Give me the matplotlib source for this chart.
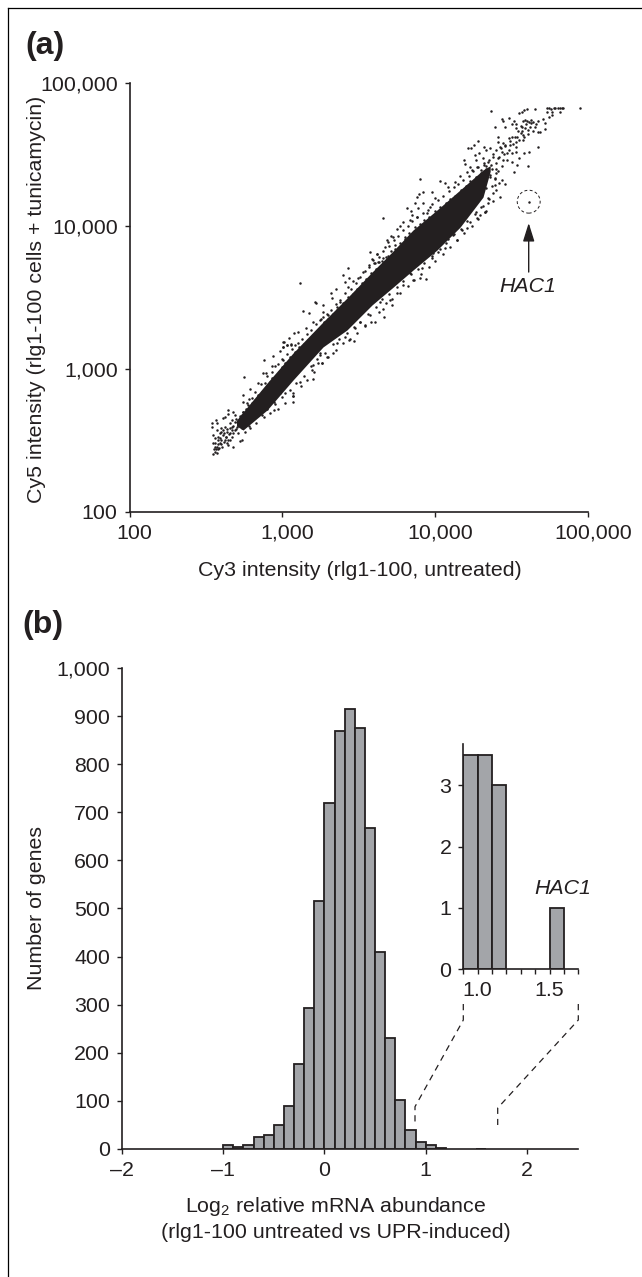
import numpy as np
import matplotlib
matplotlib.use('Agg')
import matplotlib.pyplot as plt
from matplotlib.lines import Line2D
from matplotlib.ticker import FuncFormatter
from matplotlib.transforms import ScaledTranslation

W, H = 642, 1277
INK = '#231f20'
BAR = '#a3a5a9'
TXT = 15.4

plt.rcParams['font.family'] = ['Liberation Sans', 'DejaVu Sans']
plt.rcParams['mathtext.fontset'] = 'custom'
plt.rcParams['mathtext.rm'] = 'Liberation Sans'
plt.rcParams['text.color'] = INK

# log10 (Cy3, Cy5), spot by spot
spots_low = [
    (2.537, 2.622), (2.566, 2.641), (2.570, 2.622), (2.537, 2.590), (2.544, 2.536), (2.570, 2.571),
    (2.596, 2.583), (2.625, 2.659), (2.609, 2.655), (2.646, 2.711), (2.646, 2.683), (2.679, 2.699),
    (2.668, 2.641), (2.690, 2.676), (2.592, 2.548), (2.614, 2.536), (2.559, 2.513), (2.581, 2.501),
    (2.548, 2.478), (2.570, 2.454), (2.587, 2.443), (2.559, 2.419), (2.544, 2.403), (2.631, 2.524),
    (2.657, 2.501), (2.668, 2.524), (2.646, 2.466), (2.679, 2.450), (2.723, 2.496), (2.734, 2.501),
    (2.712, 2.548), (2.690, 2.571), (2.657, 2.583), (2.734, 2.583), (2.755, 2.559), (2.788, 2.583),
    (2.810, 2.676), (2.864, 2.676), (2.777, 2.641), (2.744, 2.699), (2.744, 2.816), (2.766, 2.757),
    (2.740, 2.769), (2.788, 2.855), (2.843, 2.897), (2.751, 2.939), (2.880, 3.060), (2.941, 3.088),
    (2.875, 2.972), (2.893, 2.972), (2.930, 3.018), (2.952, 3.018), (2.984, 3.125), (3.006, 3.153),
    (3.032, 3.167), (3.002, 3.188), (3.054, 3.167), (2.995, 3.014), (3.032, 3.042), (3.061, 3.060),
    (3.082, 3.095), (2.945, 2.711), (2.945, 2.769), (3.067, 2.827), (3.071, 2.809), (3.067, 2.769),
    (3.202, 2.925), (3.115, 2.909), (3.191, 2.990), (3.235, 3.037), (3.246, 3.107), (2.984, 2.827),
    (3.017, 2.827), (2.810, 2.734), (2.712, 2.618), (2.625, 2.594), (2.592, 2.478), (2.618, 2.489),
    (2.646, 2.501), (2.701, 2.629), (2.592, 2.513), (2.614, 2.571), (2.635, 2.559), (2.668, 2.594),
    (2.701, 2.594), (2.679, 2.548), (2.657, 2.548), (2.625, 2.501), (2.603, 2.454), (2.581, 2.473),
    (2.566, 2.436), (2.635, 2.478), (2.690, 2.629), (2.723, 2.652), (2.744, 2.641), (2.734, 2.676),
    (2.766, 2.676), (2.788, 2.711), (2.821, 2.781), (2.832, 2.722), (2.853, 2.734), (2.875, 2.827),
    (2.908, 2.816), (2.930, 2.851), (2.886, 2.897), (2.930, 2.932), (2.973, 2.944), (2.995, 2.885),
    (2.777, 2.746), (2.799, 2.792), (2.843, 2.816),
]
spots_mid = [
    (3.116, 3.597), (3.432, 3.702), (3.395, 3.655), (3.438, 3.632), (3.410, 3.609), (3.465, 3.616),
    (3.432, 3.574), (3.351, 3.555), (3.316, 3.527), (3.214, 3.469), (3.220, 3.462), (3.264, 3.446),
    (3.323, 3.492), (3.138, 3.406), (3.177, 3.392), (3.264, 3.399), (3.203, 3.329), (3.155, 3.282),
    (3.105, 3.259), (3.077, 3.252), (3.046, 3.213), (3.011, 3.189), (3.002, 3.150), (3.029, 3.166),
    (3.057, 3.173), (3.083, 3.166), (3.007, 3.061), (3.040, 3.038), (3.290, 3.084), (3.334, 3.108),
    (3.258, 3.038), (3.356, 3.178), (3.438, 3.201), (3.469, 3.194), (3.410, 3.224), (3.541, 3.306),
    (3.606, 3.329), (3.665, 3.364), (3.661, 3.415), (3.715, 3.446), (3.748, 3.527), (3.704, 3.481),
    (3.574, 3.818), (3.617, 3.802), (3.595, 3.760), (3.569, 3.725), (3.530, 3.679), (3.497, 3.632),
    (3.628, 3.748), (3.694, 3.788), (3.737, 3.807), (3.247, 3.341), (3.268, 3.364), (3.301, 3.376),
    (3.356, 3.434), (3.377, 3.469), (3.476, 3.282), (3.508, 3.329), (3.574, 3.376), (3.639, 3.469),
    (3.203, 3.026), (3.247, 3.096),
]
spots_high = [
    (3.901, 4.327), (3.657, 4.052), (3.879, 4.204), (3.897, 4.222), (3.923, 4.236), (3.977, 4.239),
    (3.868, 4.157), (3.923, 4.157), (3.814, 4.122), (3.840, 4.106), (3.847, 4.075), (3.890, 4.122),
    (3.966, 4.134), (3.999, 4.192), (4.032, 4.315), (4.065, 4.301), (4.086, 4.274), (4.130, 4.308),
    (4.163, 4.348), (4.206, 4.378), (3.792, 4.029), (3.770, 3.999), (3.748, 3.975), (3.709, 3.929),
    (3.727, 3.924), (3.683, 3.901), (3.694, 3.889), (3.672, 3.854), (3.618, 3.803), (3.585, 3.766),
    (3.661, 3.773), (3.635, 3.749), (3.607, 3.738), (3.901, 3.633), (3.940, 3.626), (3.912, 3.703),
    (3.977, 3.773), (3.988, 3.808), (4.065, 3.842), (4.086, 3.905), (4.141, 3.901), (4.174, 3.971),
    (4.228, 4.029), (4.272, 4.052), (4.326, 4.099), (4.348, 4.157), (3.857, 3.621), (3.792, 3.586),
    (3.836, 3.668), (3.836, 4.041), (3.879, 4.064), (3.945, 4.087), (3.738, 3.866), (3.803, 3.924),
    (4.021, 3.819), (4.119, 3.936), (4.206, 3.982), (4.293, 4.075),
]
spots_top = [
    (4.731, 4.821), (4.742, 4.821), (4.758, 4.816), (4.776, 4.821), (4.787, 4.821), (4.803, 4.821),
    (4.817, 4.821), (4.828, 4.821), (4.839, 4.821), (4.946, 4.821), (4.653, 4.814), (4.599, 4.816),
    (4.583, 4.809), (4.549, 4.786), (4.567, 4.798), (4.367, 4.804), (4.735, 4.793), (4.765, 4.793),
    (4.817, 4.798), (4.435, 4.746), (4.447, 4.732), (4.481, 4.756), (4.515, 4.732), (4.458, 4.693),
    (4.390, 4.693), (4.504, 4.709), (4.526, 4.709), (4.526, 4.681), (4.572, 4.732), (4.590, 4.739),
    (4.567, 4.693), (4.617, 4.728), (4.640, 4.723), (4.674, 4.732), (4.708, 4.746), (4.742, 4.763),
    (4.765, 4.774), (4.719, 4.716), (4.719, 4.674), (4.674, 4.653), (4.685, 4.658), (4.628, 4.716),
    (4.606, 4.669), (4.572, 4.634), (4.651, 4.693), (4.594, 4.709), (4.481, 4.611), (4.504, 4.623),
    (4.538, 4.623), (4.413, 4.623), (4.408, 4.588), (4.447, 4.576), (4.277, 4.592), (4.254, 4.565),
    (4.236, 4.541), (4.213, 4.546), (4.322, 4.553), (4.333, 4.530), (4.356, 4.541), (4.395, 4.530),
    (4.424, 4.553), (4.458, 4.565), (4.492, 4.565), (4.526, 4.588), (4.560, 4.646), (4.572, 4.599),
    (4.674, 4.553), (4.583, 4.506), (4.606, 4.420), (4.617, 4.518), (4.549, 4.471), (4.526, 4.518),
    (4.504, 4.448), (4.538, 4.425), (4.515, 4.378), (4.447, 4.460), (4.288, 4.506), (4.311, 4.471),
    (4.258, 4.495), (4.265, 4.460), (4.186, 4.460), (4.197, 4.429), (4.231, 4.413), (4.272, 4.413),
    (4.242, 4.390), (4.435, 4.320), (4.454, 4.290), (4.424, 4.203), (4.345, 4.192), (4.379, 4.227),
    (4.390, 4.285), (4.299, 4.133), (4.326, 4.099), (4.265, 4.099), (4.208, 4.099), (4.401, 4.366),
    (4.367, 4.425), (4.413, 4.471), (4.379, 4.483), (4.469, 4.506), (4.435, 4.518), (4.345, 4.448),
    (4.322, 4.425), (4.299, 4.390), (4.356, 4.355), (4.390, 4.332), (4.299, 4.285), (4.254, 4.215),
    (4.333, 4.262), (4.288, 4.215), (4.220, 4.285),
]

# too close together to separate: typed by eye to match the density along the band
fringe_upper = [
    (2.78, 2.79), (2.80, 2.76), (2.82, 2.84), (2.84, 2.80), (2.86, 2.89), (2.87, 2.84), (2.90, 2.95),
    (2.92, 2.91), (2.93, 2.98), (2.95, 2.94), (2.97, 3.03), (2.98, 2.98), (3.00, 3.07), (3.02, 3.04),
    (3.03, 3.10), (3.05, 3.08), (3.06, 3.14), (3.08, 3.12), (3.10, 3.18), (3.11, 3.15), (3.13, 3.21),
    (3.14, 3.17), (3.16, 3.24), (3.17, 3.20), (3.19, 3.27), (3.20, 3.23), (3.22, 3.31), (3.24, 3.28),
    (3.25, 3.35), (3.27, 3.33), (3.29, 3.38), (3.30, 3.35), (3.32, 3.41), (3.33, 3.38), (3.35, 3.45),
    (3.36, 3.41), (3.38, 3.48), (3.40, 3.46), (3.41, 3.53), (3.43, 3.50), (3.45, 3.56), (3.46, 3.52),
    (3.48, 3.60), (3.49, 3.56), (3.51, 3.64), (3.52, 3.60), (3.54, 3.68), (3.55, 3.63), (3.57, 3.71),
    (3.58, 3.67), (3.60, 3.74), (3.61, 3.70), (3.63, 3.78), (3.65, 3.75), (3.66, 3.82), (3.68, 3.78),
    (3.70, 3.86), (3.71, 3.82), (3.73, 3.90), (3.74, 3.84), (3.76, 3.93), (3.77, 3.88), (3.79, 3.97),
    (3.80, 3.91), (3.82, 4.00), (3.83, 3.95), (3.85, 4.03), (3.87, 3.99), (3.88, 4.06), (3.90, 4.01),
    (3.92, 4.09), (3.93, 4.04), (3.95, 4.11), (3.96, 4.06), (3.98, 4.15), (4.00, 4.10), (4.02, 4.18),
    (4.03, 4.13), (4.05, 4.21), (4.07, 4.16), (4.09, 4.24), (4.10, 4.19), (4.12, 4.27), (4.13, 4.21),
    (4.15, 4.29), (4.17, 4.25), (4.18, 4.32), (4.20, 4.28), (4.22, 4.35), (4.23, 4.31), (4.25, 4.38),
    (4.27, 4.34), (4.28, 4.41), (4.30, 4.37), (4.32, 4.44), (4.33, 4.40),
]
fringe_lower = [
    (2.78, 2.60), (2.81, 2.65), (2.83, 2.62), (2.85, 2.68), (2.88, 2.66), (2.90, 2.72), (2.92, 2.69),
    (2.95, 2.75), (2.97, 2.72), (3.00, 2.80), (3.02, 2.76), (3.05, 2.85), (3.07, 2.81), (3.09, 2.90),
    (3.12, 2.88), (3.14, 2.95), (3.16, 2.92), (3.19, 3.02), (3.21, 2.98), (3.23, 3.07), (3.26, 3.04),
    (3.28, 3.11), (3.30, 3.08), (3.33, 3.17), (3.35, 3.13), (3.37, 3.21), (3.40, 3.18), (3.42, 3.25),
    (3.44, 3.21), (3.47, 3.29), (3.49, 3.25), (3.51, 3.33), (3.54, 3.30), (3.56, 3.38), (3.58, 3.33),
    (3.61, 3.43), (3.63, 3.40), (3.65, 3.49), (3.68, 3.46), (3.70, 3.52), (3.72, 3.49), (3.75, 3.57),
    (3.77, 3.53), (3.79, 3.61), (3.82, 3.58), (3.84, 3.66), (3.86, 3.62), (3.89, 3.70), (3.91, 3.66),
    (3.93, 3.74), (3.96, 3.71), (3.98, 3.79), (4.00, 3.75), (4.03, 3.84), (4.05, 3.80), (4.07, 3.88),
    (4.10, 3.85), (4.12, 3.94), (4.14, 3.90), (4.17, 3.98), (4.19, 3.95), (4.21, 4.03), (4.24, 4.00),
    (4.26, 4.08), (4.28, 4.05), (4.31, 4.14), (4.33, 4.10), (4.35, 4.19), (4.38, 4.17), (4.40, 4.25),
    (4.42, 4.30), (4.37, 4.28),
]
fringe_top = [
    (4.33, 4.42), (4.35, 4.46), (4.37, 4.40), (4.38, 4.50), (4.40, 4.44), (4.41, 4.38), (4.42, 4.48),
    (4.43, 4.54), (4.44, 4.42), (4.45, 4.50), (4.46, 4.56), (4.47, 4.46), (4.48, 4.53), (4.49, 4.59),
    (4.50, 4.51), (4.51, 4.57), (4.52, 4.62), (4.53, 4.55), (4.54, 4.66), (4.55, 4.60), (4.56, 4.70),
    (4.57, 4.66), (4.58, 4.62), (4.59, 4.68), (4.60, 4.73), (4.61, 4.64), (4.62, 4.69), (4.63, 4.74),
    (4.64, 4.66), (4.66, 4.71), (4.34, 4.36), (4.36, 4.34), (4.39, 4.33), (4.31, 4.33), (4.29, 4.30),
    (4.27, 4.24), (4.40, 4.40),
]
fringe_bottom = [
    (2.56, 2.45), (2.58, 2.52), (2.60, 2.50), (2.60, 2.56), (2.62, 2.55), (2.63, 2.52), (2.64, 2.58),
    (2.65, 2.54), (2.66, 2.62), (2.67, 2.57), (2.68, 2.60), (2.70, 2.58), (2.70, 2.65), (2.71, 2.61),
    (2.72, 2.67), (2.73, 2.62), (2.74, 2.70), (2.75, 2.64), (2.76, 2.72), (2.77, 2.67), (2.58, 2.44),
    (2.56, 2.48), (2.55, 2.44), (2.57, 2.41), (2.60, 2.47),
]

# where the spots merge into solid black, traced as an outline
core_log_cy3 = [2.700, 2.743, 2.900, 3.070, 3.266, 3.423, 3.587, 3.718, 3.855, 4.012, 4.163, 4.313, 4.360]
core_log_cy5_upper = [2.640, 2.697, 2.900, 3.110, 3.327, 3.494, 3.676, 3.816, 3.970, 4.110, 4.250, 4.390, 4.420]
core_log_cy5_lower = [2.600, 2.571, 2.711, 2.921, 3.152, 3.271, 3.446, 3.564, 3.690, 3.830, 3.990, 4.200, 4.380]

hac1_log = (4.612, 4.168)

scatter_ticks = [100, 1000, 10000, 100000]

# histogram, bins 0.1 wide, left edges
bin_left = [-1.0, -0.9, -0.8, -0.7, -0.6, -0.5, -0.4, -0.3, -0.2, -0.1, 0.0, 0.1,
            0.2, 0.3, 0.4, 0.5, 0.6, 0.7, 0.8, 0.9, 1.0, 1.1, 1.5]
bin_count = [9, 5, 9, 24, 30, 50, 90, 177, 294, 516, 720, 870,
             915, 875, 668, 410, 231, 102, 40, 15, 9, 3, 1]
hist_xticks = [-2, -1, 0, 1, 2]
hist_yticks = [0, 100, 200, 300, 400, 500, 600, 700, 800, 900, 1000]

# inset keeps the bars above its range cut off at this height
inset_cap = 3.5
inset_yticks = [0, 1, 2, 3]
inset_xticks = [0.9, 1.0, 1.1, 1.2, 1.3, 1.4, 1.5, 1.6, 1.7]


def box(left, right, top, bottom):
    return [left / W, 1 - bottom / H, (right - left) / W, (bottom - top) / H]


def label(x, y, text, **kw):
    kw.setdefault('ha', 'center')
    kw.setdefault('va', 'center')
    kw.setdefault('fontsize', TXT)
    fig.text(x / W, 1 - y / H, text, **kw)


def pix_line(xs, ys, **kw):
    fig.add_artist(Line2D(np.array(xs) / W, 1 - np.array(ys) / H,
                          transform=fig.transFigure, **kw))


def style_axes(ax):
    ax.spines['top'].set_visible(False)
    ax.spines['right'].set_visible(False)
    ax.spines['left'].set_color(INK)
    ax.spines['bottom'].set_color(INK)
    ax.spines['left'].set_linewidth(1.2)
    ax.spines['bottom'].set_linewidth(1.2)
    ax.tick_params(which='both', direction='out', length=3.5, width=1, color=INK,
                   labelsize=TXT, labelcolor=INK, pad=5)


def shift_labels(labels, dx):
    offset = ScaledTranslation(dx / 100, 0, fig.dpi_scale_trans)
    for lab in labels:
        lab.set_transform(lab.get_transform() + offset)


fig = plt.figure(figsize=(W / 100, H / 100), dpi=100)

# outer frame, open on the right and bottom
pix_line([8, 8], [H, 8], color='black', lw=0.9)
pix_line([8, W], [8, 8], color='black', lw=0.9)

label(25, 46, '(a)', fontsize=23, fontweight='bold', ha='left')
label(22, 625, '(b)', fontsize=23, fontweight='bold', ha='left')

# (a) scatter
ax1 = fig.add_axes(box(129.5, 588, 82.7, 511.7))
style_axes(ax1)
ax1.set_xscale('log')
ax1.set_yscale('log')
ax1.set_xlim(100, 100000)
ax1.set_ylim(100, 100000)
ax1.minorticks_off()

ax1.fill_between(10 ** np.array(core_log_cy3), 10 ** np.array(core_log_cy5_lower),
                 10 ** np.array(core_log_cy5_upper), color=INK, lw=0)
for group in [spots_low, spots_mid, spots_high, spots_top,
              fringe_upper, fringe_lower, fringe_top, fringe_bottom]:
    lx, ly = zip(*group)
    ax1.scatter(10 ** np.array(lx), 10 ** np.array(ly), s=3.2, color=INK, lw=0)

ax1.set_xticks(scatter_ticks)
ax1.set_yticks(scatter_ticks)
fmt = FuncFormatter(lambda v, pos: f'{int(v):,}')
ax1.xaxis.set_major_formatter(fmt)
ax1.yaxis.set_major_formatter(fmt)
shift_labels(ax1.get_xticklabels(), 5)

hx, hy = 10 ** hac1_log[0], 10 ** hac1_log[1]
ax1.scatter([hx], [hy], s=3.2, color=INK, lw=0)
ax1.scatter([hx], [hy], s=272, facecolors='none', edgecolors=INK, lw=0.7,
            linestyles=[(0, (3, 2.5))])
ax1.annotate('', xy=(hx, 10 ** 4.019), xytext=(hx, 10 ** 3.676),
             arrowprops=dict(arrowstyle='-|>,head_length=0.8,head_width=0.25', mutation_scale=14,
                             shrinkA=0, shrinkB=0, color=INK, lw=1))

label(528, 286, 'HAC1', style='italic')
label(360, 571, 'Cy3 intensity (rlg1-100, untreated)')
label(37, 299, 'Cy5 intensity (rlg1-100 cells + tunicamycin)', rotation=90)

# (b) histogram
ax2 = fig.add_axes(box(122, 577.5, 668, 1149))
style_axes(ax2)
ax2.bar(bin_left, bin_count, width=0.1, align='edge', color=BAR, edgecolor=INK, lw=1.3)
ax2.set_xlim(-2, 2.5)
ax2.set_ylim(0, 1000)
ax2.set_xticks(hist_xticks)
ax2.set_xticklabels([str(t).replace('-', '\u2013') for t in hist_xticks])
ax2.set_yticks(hist_yticks)
ax2.yaxis.set_major_formatter(fmt)

label(336, 1207, 'Log$_2$ relative mRNA abundance')
label(336, 1232, '(rlg1-100 untreated vs UPR-induced)')
label(37, 908, 'Number of genes', rotation=90)

# inset
ax3 = fig.add_axes(box(463.3, 578.3, 744.3, 969.3))
style_axes(ax3)
ax3.bar(bin_left, np.minimum(bin_count, inset_cap), width=0.1, align='edge',
        color=BAR, edgecolor=INK, lw=1.3)
ax3.set_xlim(0.9, 1.7)
ax3.set_ylim(0, 3.67)
ax3.set_xticks(inset_xticks)
ax3.set_xticklabels([f'{t:.1f}' if t in (1.0, 1.5) else '' for t in inset_xticks])
ax3.set_yticks(inset_yticks)
ax3.patch.set_alpha(0)
label(562.7, 888.7, 'HAC1', style='italic')

# dashed connectors from the main axis up to the inset
dash = dict(color=INK, lw=0.9, linestyle=(0, (5, 4)))
pix_line([463.3, 463.3, 415, 415], [1004, 1020, 1106.7, 1125], **dash)
pix_line([578.3, 578.3, 497.7, 497.7], [1004, 1020, 1108, 1125], **dash)

fig.savefig('out.png', dpi=100)
